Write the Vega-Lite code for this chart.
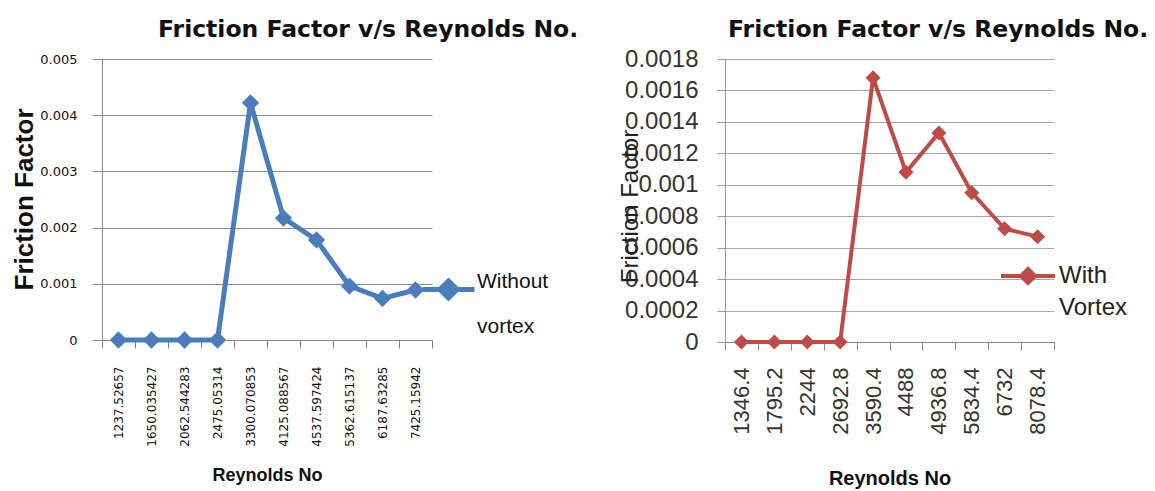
{
  "$schema": "https://vega.github.io/schema/vega-lite/v6.json",
  "background": "white",
  "padding": {"left": 11, "top": 17, "right": 0, "bottom": 0},
  "spacing": 39,
  "config": {"view": {"stroke": null}},
  "resolve": {"scale": {"color": "independent"}, "legend": {"color": "independent"}},
  "hconcat": [
    {
      "width": 330,
      "height": 281,
      "title": {"text": "Friction Factor v/s Reynolds No.", "anchor": "start", "frame": "group", "dx": 56, "font": "DejaVu Sans", "fontSize": 23.5, "fontWeight": "bold", "color": "#111111", "offset": 12},
      "data": {"values": [
        {"re": "1237.52657", "f": 0, "series": "Without vortex"},
        {"re": "1650.035427", "f": 0, "series": "Without vortex"},
        {"re": "2062.544283", "f": 0, "series": "Without vortex"},
        {"re": "2475.05314", "f": 0, "series": "Without vortex"},
        {"re": "3300.070853", "f": 0.00422, "series": "Without vortex"},
        {"re": "4125.088567", "f": 0.00217, "series": "Without vortex"},
        {"re": "4537.597424", "f": 0.00178, "series": "Without vortex"},
        {"re": "5362.615137", "f": 0.00096, "series": "Without vortex"},
        {"re": "6187.63285", "f": 0.00074, "series": "Without vortex"},
        {"re": "7425.15942", "f": 0.00089, "series": "Without vortex"}
      ]},
      "mark": {"type": "line", "strokeWidth": 5, "point": {"shape": "diamond", "size": 300, "filled": true, "opacity": 1}},
      "encoding": {
        "x": {
          "field": "re", "type": "ordinal", "sort": null, "bandPosition": 0.5,
          "scale": {"type": "band", "paddingInner": 0, "paddingOuter": 0},
          "axis": {
            "title": "Reynolds No", "titleFont": "Liberation Sans", "titleFontWeight": "bold", "titleFontSize": 18, "titleColor": "#111111", "titlePadding": 20,
            "labelAngle": -90, "labelAlign": "right", "labelBaseline": "middle", "labelFont": "DejaVu Sans", "labelFontSize": 12, "labelColor": "#111111", "labelPadding": 18,
            "tickBand": "extent", "tickSize": 8, "tickColor": "#888888", "domainColor": "#888888", "grid": false
          }
        },
        "y": {
          "field": "f", "type": "quantitative",
          "scale": {"domain": [0, 0.005], "nice": false},
          "axis": {
            "title": "Friction Factor", "titleFont": "Liberation Sans", "titleFontSize": 26, "titleFontWeight": "bold", "titleColor": "#111111",
            "titleX": -78, "titleY": 140, "titleAngle": 270, "titleAlign": "center", "titleBaseline": "middle",
            "values": [0, 0.001, 0.002, 0.003, 0.004, 0.005], "format": ".3~f",
            "labelFont": "DejaVu Sans", "labelFontSize": 13, "labelColor": "#111111", "labelPadding": 15,
            "tickSize": 10, "tickColor": "#888888", "domainColor": "#888888", "gridColor": "#8c8c8c", "grid": true
          }
        },
        "color": {
          "field": "series", "type": "nominal",
          "scale": {"domain": ["Without vortex"], "range": ["#4A7EBB"]},
          "legend": {
            "orient": "none", "legendX": 318, "legendY": 202, "title": null, "padding": 0,
            "symbolType": "M-1,0H1M0,-0.33L0.33,0L0,0.33L-0.33,0Z", "symbolSize": 2704, "symbolStrokeWidth": 5,
            "labelFont": "Liberation Sans", "labelFontSize": 21, "labelColor": "#111111", "labelOffset": 0,
            "labelExpr": "split(datum.label, ' ')",
            "encode": {
              "symbols": {"update": {"fill": {"value": "#4A7EBB"}, "stroke": {"value": "#4A7EBB"}, "strokeWidth": {"value": 5}, "opacity": {"value": 1}}},
              "labels": {"update": {"lineHeight": {"value": 45}, "dy": {"value": -8}}}
            }
          }
        }
      }
    },
    {
      "width": 329,
      "height": 283,
      "title": {"text": "Friction Factor v/s Reynolds No.", "anchor": "start", "frame": "group", "dx": 3, "font": "DejaVu Sans", "fontSize": 23.5, "fontWeight": "bold", "color": "#111111", "offset": 6},
      "data": {"values": [
        {"re": "1346.4", "f": 0, "series": "With Vortex"},
        {"re": "1795.2", "f": 0, "series": "With Vortex"},
        {"re": "2244", "f": 0, "series": "With Vortex"},
        {"re": "2692.8", "f": 0, "series": "With Vortex"},
        {"re": "3590.4", "f": 0.00168, "series": "With Vortex"},
        {"re": "4488", "f": 0.00108, "series": "With Vortex"},
        {"re": "4936.8", "f": 0.00133, "series": "With Vortex"},
        {"re": "5834.4", "f": 0.00095, "series": "With Vortex"},
        {"re": "6732", "f": 0.00072, "series": "With Vortex"},
        {"re": "8078.4", "f": 0.00067, "series": "With Vortex"}
      ]},
      "mark": {"type": "line", "strokeWidth": 4, "point": {"shape": "diamond", "size": 225, "filled": true, "opacity": 1}},
      "encoding": {
        "x": {
          "field": "re", "type": "ordinal", "sort": null, "bandPosition": 0.5,
          "scale": {"type": "band", "paddingInner": 0, "paddingOuter": 0},
          "axis": {
            "title": "Reynolds No", "titleFont": "Liberation Sans", "titleFontWeight": "bold", "titleFontSize": 20, "titleColor": "#111111", "titlePadding": 34,
            "labelAngle": -90, "labelAlign": "right", "labelBaseline": "middle", "labelFont": "Liberation Sans", "labelFontSize": 22, "labelColor": "#333333", "labelPadding": 17,
            "tickBand": "extent", "tickSize": 8, "tickColor": "#888888", "domainColor": "#888888", "grid": false
          }
        },
        "y": {
          "field": "f", "type": "quantitative",
          "scale": {"domain": [0, 0.0018], "nice": false},
          "axis": {
            "title": "Friction Factor", "titleFont": "Liberation Sans", "titleFontSize": 24, "titleFontWeight": "normal", "titleColor": "#222222",
            "titleX": -95, "titleY": 147, "titleAngle": 270, "titleAlign": "center", "titleBaseline": "middle",
            "values": [0, 0.0002, 0.0004, 0.0006, 0.0008, 0.001, 0.0012, 0.0014, 0.0016, 0.0018], "format": ".4~f",
            "labelFont": "Liberation Sans", "labelFontSize": 24, "labelColor": "#333333", "labelPadding": 19,
            "tickSize": 8, "tickColor": "#999999", "domainColor": "#999999", "gridColor": "#a6a6a6", "grid": true
          }
        },
        "color": {
          "field": "series", "type": "nominal",
          "scale": {"domain": ["With Vortex"], "range": ["#BE4B48"]},
          "legend": {
            "orient": "none", "legendX": 274, "legendY": 188, "title": null, "padding": 0,
            "symbolType": "M-1,0H1M0,-0.26L0.26,0L0,0.26L-0.26,0Z", "symbolSize": 2916, "symbolStrokeWidth": 4,
            "labelFont": "Liberation Sans", "labelFontSize": 24, "labelColor": "#222222", "labelOffset": 2,
            "labelExpr": "split(datum.label, ' ')",
            "encode": {
              "symbols": {"update": {"fill": {"value": "#BE4B48"}, "stroke": {"value": "#BE4B48"}, "strokeWidth": {"value": 4}, "opacity": {"value": 1}}},
              "labels": {"update": {"lineHeight": {"value": 32}, "dy": {"value": 0}}}
            }
          }
        }
      }
    }
  ]
}
